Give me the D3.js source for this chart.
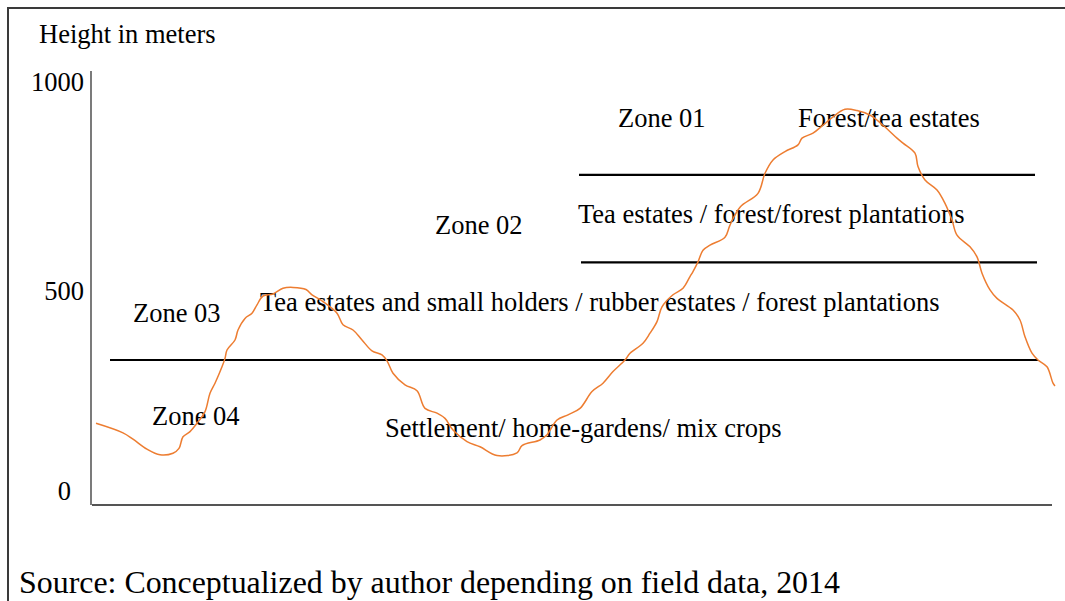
<!DOCTYPE html>
<html>
<head>
<meta charset="utf-8">
<script src="https://cdn.jsdelivr.net/npm/d3@7"></script>
<style>
  html, body { margin: 0; padding: 0; background: #fff; }
  svg { display: block; }
  text { font-family: "Liberation Serif", "Times New Roman", serif; fill: #000; }
</style>
</head>
<body>
<svg id="chart" width="1065" height="601"></svg>
<script>
// ---- data ----
const distance = [4,31,41,55,68,81,87,91,98,105,113,118,123,130,133,135,143,146,153,160,165,171,181,191,201,214,220,231,245,251,261,270,280,290,295,301,313,325,333,345,353,361,375,388,405,425,430,448,455,465,476,488,500,511,521,533,538,551,558,565,570,581,591,598,601,606,611,618,633,638,648,666,673,681,693,706,710,721,731,741,753,765,778,791,805,811,823,826,833,845,853,860,865,878,885,890,898,905,921,928,933,940,946,955,961,963];
const height = [172,148,132,107,93,97,109,138,151,172,201,247,272,313,334,355,380,405,434,447,468,490,495,509,511,506,493,476,447,418,405,380,353,343,328,297,268,253,209,197,184,155,126,113,91,98,116,130,143,180,193,209,251,272,301,330,347,372,397,426,463,493,509,537,549,572,600,612,631,660,703,736,784,816,836,852,868,880,899,919,937,934,923,899,868,856,832,800,768,744,712,672,636,608,584,545,505,484,455,430,388,347,330,313,272,265];
const boundaryHeights = [780, 571, 330];
const boundaryStart = [487, 489, 18];
const boundaryEnd = [943, 945, 946];
const tickValues = [0, 500, 1000];
const tickLabels = ["0", "500", "1000"];
const axisTitle = "Height in meters";
const zoneNames = ["Zone 01", "Zone 02", "Zone 03", "Zone 04"];
const landUse = ["Forest/tea estates", "Tea estates / forest/forest plantations", "Tea estates and small holders / rubber estates / forest plantations", "Settlement/ home-gardens/ mix crops"];
const sourceNote = "Source: Conceptualized by author depending on field data, 2014";

// ---- scales ----
const x = d3.scaleLinear().domain([0, 960]).range([92, 1052]);
const y = d3.scaleLinear().domain([0, 500, 1000]).range([492, 292, 83]);

const svg = d3.select("#chart");
const FS = 26.5;

// frame
svg.append("path")
  .attr("d", "M8,601 L8,8 L1065,8")
  .attr("fill", "none").attr("stroke", "#3a3a3a").attr("stroke-width", 2);

// axes
svg.append("line")
  .attr("x1", x(0) - 1).attr("x2", x(0) - 1)
  .attr("y1", y(1000) - 12).attr("y2", y(0) + 13)
  .attr("stroke", "#333").attr("stroke-width", 1.3);
svg.append("line")
  .attr("x1", x(0)).attr("x2", x(960))
  .attr("y1", y(0) + 13).attr("y2", y(0) + 13)
  .attr("stroke", "#555").attr("stroke-width", 2.2);

// tick labels
svg.selectAll("text.tick").data(tickValues).join("text")
  .attr("class", "tick")
  .attr("x", d => d === 0 ? 71 : 84)
  .attr("y", d => y(d) + 8)
  .attr("text-anchor", "end")
  .attr("font-size", FS)
  .text((d, i) => tickLabels[i]);

// axis title
svg.append("text").attr("x", 39).attr("y", 43).attr("font-size", FS).text(axisTitle);

// zone boundary lines
svg.selectAll("line.zone").data(boundaryHeights).join("line")
  .attr("class", "zone")
  .attr("x1", (d, i) => x(boundaryStart[i]))
  .attr("x2", (d, i) => x(boundaryEnd[i]))
  .attr("y1", d => y(d)).attr("y2", d => y(d))
  .attr("stroke", "#000").attr("stroke-width", 2.2);

// labels
const labelPos = [
  [zoneNames[0], 618, 127],
  [landUse[0], 798, 127],
  [landUse[1], 578, 223],
  [zoneNames[1], 435, 234],
  [landUse[2], 260, 311],
  [zoneNames[2], 133, 322],
  [zoneNames[3], 152, 425],
  [landUse[3], 385, 437]
];
svg.selectAll("text.lbl").data(labelPos).join("text")
  .attr("class", "lbl")
  .attr("x", d => d[1]).attr("y", d => d[2])
  .attr("font-size", FS)
  .text(d => d[0]);

// profile curve
const pts = distance.map((d, i) => [d, height[i]]);
svg.append("path")
  .datum(pts)
  .attr("fill", "none")
  .attr("stroke", "#ED7D31")
  .attr("stroke-width", 1.5)
  .attr("d", d3.line().x(d => x(d[0])).y(d => y(d[1])).curve(d3.curveCatmullRom.alpha(0.5)));

// source
svg.append("text").attr("x", 19).attr("y", 593).attr("font-size", 31.9).text(sourceNote);
</script>
</body>
</html>
